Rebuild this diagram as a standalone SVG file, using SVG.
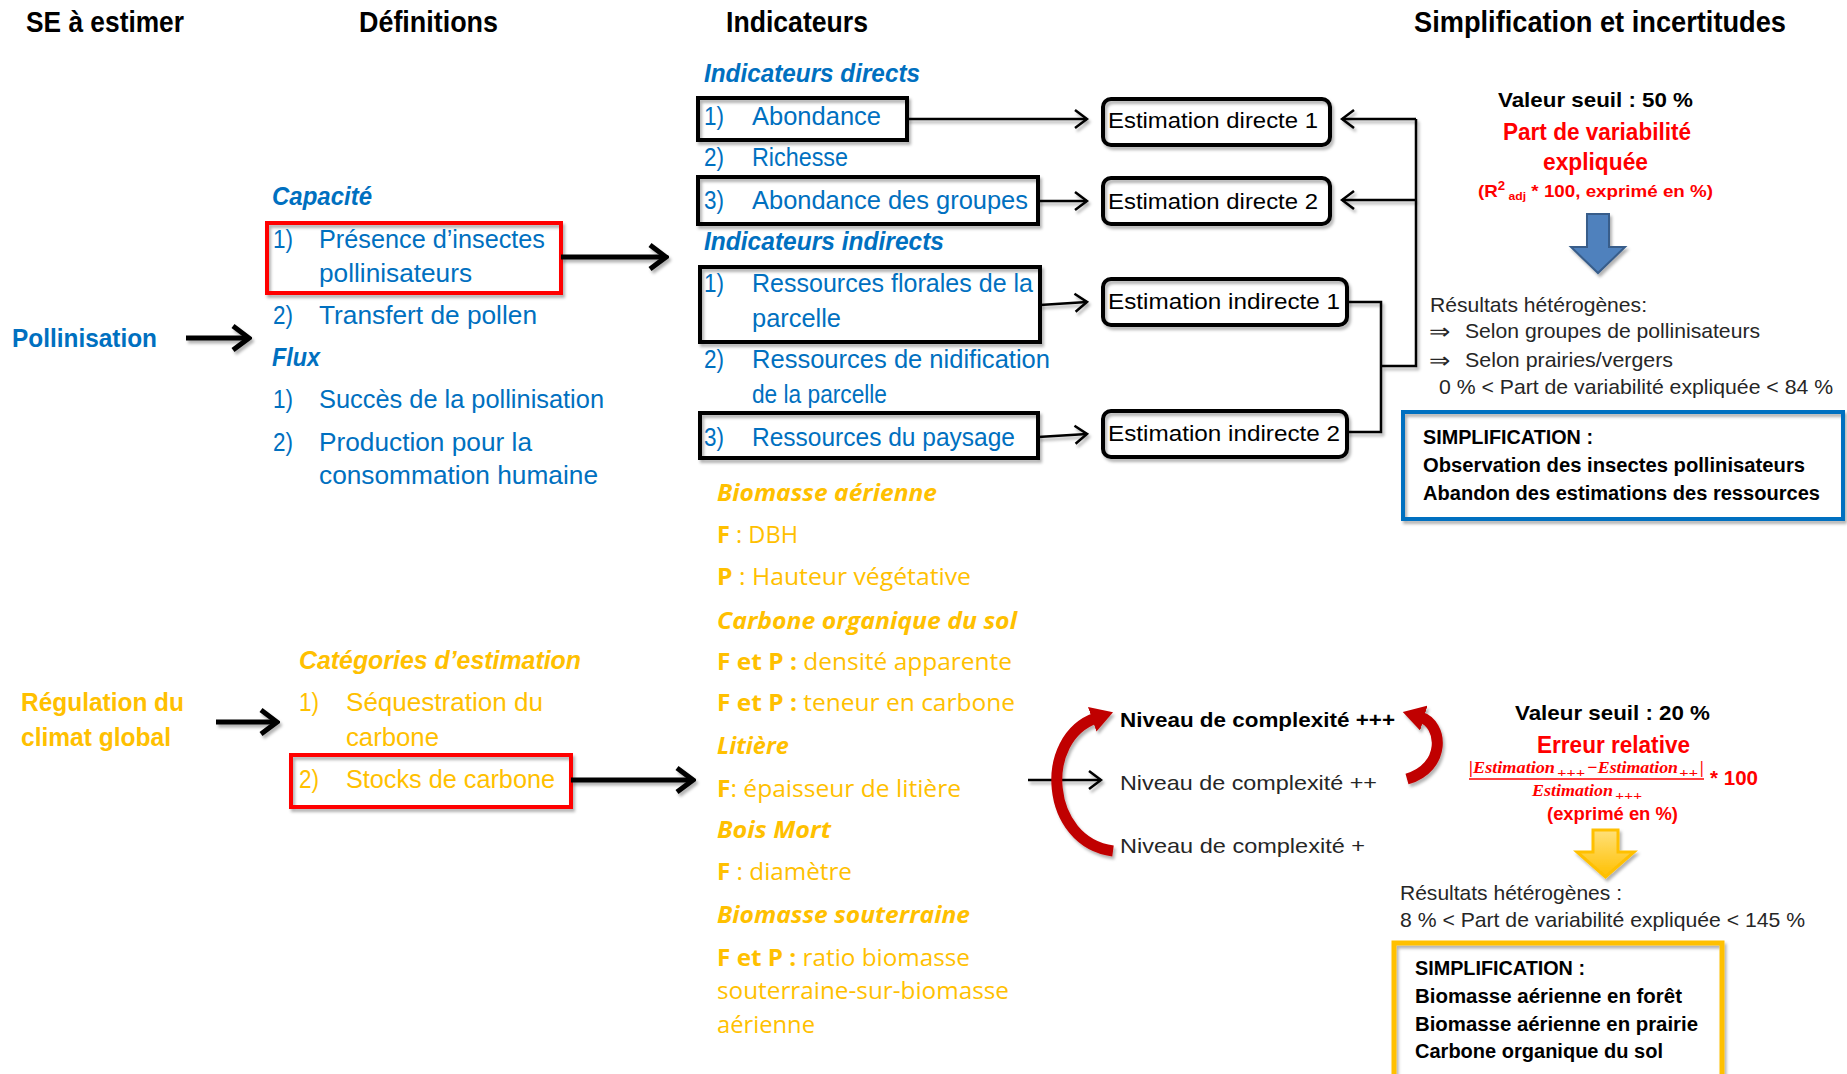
<svg xmlns="http://www.w3.org/2000/svg" width="1847" height="1074" viewBox="0 0 1847 1074">
<defs>
<style>
text{font-family:"Liberation Sans",Arial,sans-serif}
.h{font-size:29px;font-weight:bold;fill:#000}
.bl{font-size:25px;fill:#0070C0}
.blb{font-size:25px;fill:#0070C0;font-weight:bold}
.bli{font-size:25px;fill:#0070C0;font-weight:bold;font-style:italic}
.or{font-size:25px;fill:#FFC000}
.orb{font-size:25px;fill:#FFC000;font-weight:bold}
.ori{font-size:25px;fill:#FFC000;font-style:italic;font-weight:bold}
.og{font-family:"Open Sans","Liberation Sans",sans-serif;font-size:23px;fill:#FFC000}
.ogi{font-family:"Open Sans","Liberation Sans",sans-serif;font-size:23px;fill:#FFC000;font-weight:bold;font-style:italic}
.est{font-size:22px;fill:#000}
.k{font-size:21px;fill:#262626}
.kb{font-size:21px;fill:#000;font-weight:bold}
.sb{font-size:20px;fill:#000;font-weight:bold}
.rb{font-size:23px;fill:#FF0000;font-weight:bold}
.fm{font-family:"Liberation Serif","Times New Roman",serif;font-size:17px;fill:#FF0000;font-weight:bold;font-style:italic}
.fs{font-family:"Liberation Serif","Times New Roman",serif;font-size:12px;fill:#FF0000;font-weight:bold;font-style:italic}
.box{fill:none;stroke:#000;stroke-width:4}
.redbox{fill:none;stroke:#FF0000;stroke-width:4}
.thin{fill:none;stroke:#000;stroke-width:2.5}
.thick{fill:none;stroke:#000;stroke-width:5}
.rarc{fill:none;stroke:#C00000;stroke-width:11}
</style>
<filter id="sh" x="-10%" y="-10%" width="130%" height="140%">
<feDropShadow dx="2" dy="3" stdDeviation="1.5" flood-color="#000" flood-opacity="0.3"/>
</filter>
<marker id="mt" viewBox="0 0 16 22" refX="14" refY="11" markerWidth="16" markerHeight="22" markerUnits="userSpaceOnUse" orient="auto">
<path d="M2,2 L14,11 L2,20" fill="none" stroke="#000" stroke-width="2.5"/>
</marker>
<marker id="mk" viewBox="0 0 22 30" refX="19" refY="15" markerWidth="22" markerHeight="30" markerUnits="userSpaceOnUse" orient="auto">
<path d="M3,3 L19,15 L3,27" fill="none" stroke="#000" stroke-width="5"/>
</marker>
<marker id="mr" viewBox="0 0 24 26" refX="4" refY="13" markerWidth="24" markerHeight="26" markerUnits="userSpaceOnUse" orient="auto">
<path d="M0,0 L22,13 L0,26 Z" fill="#C00000"/>
</marker>
<linearGradient id="yg" x1="0" y1="0" x2="0" y2="1">
<stop offset="0" stop-color="#FFE07A"/><stop offset="1" stop-color="#FFC000"/>
</linearGradient>
</defs>
<rect width="1847" height="1074" fill="#fff"/>

<g id="headers">
<text class="h" x="26" y="32" textLength="158" lengthAdjust="spacingAndGlyphs">SE à estimer</text>
<text class="h" x="359" y="32" textLength="139" lengthAdjust="spacingAndGlyphs">Définitions</text>
<text class="h" x="726" y="32" textLength="142" lengthAdjust="spacingAndGlyphs">Indicateurs</text>
<text class="h" x="1414" y="32" textLength="372" lengthAdjust="spacingAndGlyphs">Simplification et incertitudes</text>
</g>

<g id="pollinisation">
<text class="blb" x="12" y="347" textLength="145" lengthAdjust="spacingAndGlyphs">Pollinisation</text>
</g>
<g id="regulation">
<text class="orb" x="21" y="711" textLength="163" lengthAdjust="spacingAndGlyphs">Régulation du</text>
<text class="orb" x="21" y="746" textLength="150" lengthAdjust="spacingAndGlyphs">climat global</text>
</g>

<g id="def-pollinisation">
<text class="bli" x="272" y="205" textLength="100" lengthAdjust="spacingAndGlyphs">Capacité</text>
<rect class="redbox" x="267" y="223" width="294" height="70" filter="url(#sh)"/>
<text class="bl" x="273" y="248" textLength="20" lengthAdjust="spacingAndGlyphs">1)</text>
<text class="bl" x="319" y="248" textLength="226" lengthAdjust="spacingAndGlyphs">Présence d’insectes</text>
<text class="bl" x="319" y="282" textLength="153" lengthAdjust="spacingAndGlyphs">pollinisateurs</text>
<text class="bl" x="273" y="324" textLength="20" lengthAdjust="spacingAndGlyphs">2)</text>
<text class="bl" x="319" y="324" textLength="218" lengthAdjust="spacingAndGlyphs">Transfert de pollen</text>
<text class="bli" x="272" y="366" textLength="48" lengthAdjust="spacingAndGlyphs">Flux</text>
<text class="bl" x="273" y="408" textLength="20" lengthAdjust="spacingAndGlyphs">1)</text>
<text class="bl" x="319" y="408" textLength="285" lengthAdjust="spacingAndGlyphs">Succès de la pollinisation</text>
<text class="bl" x="273" y="451" textLength="20" lengthAdjust="spacingAndGlyphs">2)</text>
<text class="bl" x="319" y="451" textLength="213" lengthAdjust="spacingAndGlyphs">Production pour la</text>
<text class="bl" x="319" y="484" textLength="279" lengthAdjust="spacingAndGlyphs">consommation humaine</text>
</g>

<g id="def-climat">
<text class="ori" x="299" y="669" textLength="282" lengthAdjust="spacingAndGlyphs">Catégories d’estimation</text>
<text class="or" x="299" y="711" textLength="20" lengthAdjust="spacingAndGlyphs">1)</text>
<text class="or" x="346" y="711" textLength="197" lengthAdjust="spacingAndGlyphs">Séquestration du</text>
<text class="or" x="346" y="746" textLength="93" lengthAdjust="spacingAndGlyphs">carbone</text>
<rect class="redbox" x="291" y="755" width="280" height="52" filter="url(#sh)"/>
<text class="or" x="299" y="788" textLength="20" lengthAdjust="spacingAndGlyphs">2)</text>
<text class="or" x="346" y="788" textLength="209" lengthAdjust="spacingAndGlyphs">Stocks de carbone</text>
</g>

<g id="indicateurs-pollinisation">
<text class="bli" x="704" y="82" textLength="216" lengthAdjust="spacingAndGlyphs">Indicateurs directs</text>
<rect class="box" x="698" y="98" width="209" height="42" filter="url(#sh)"/>
<text class="bl" x="704" y="125" textLength="20" lengthAdjust="spacingAndGlyphs">1)</text>
<text class="bl" x="752" y="125" textLength="129" lengthAdjust="spacingAndGlyphs">Abondance</text>
<text class="bl" x="704" y="166" textLength="20" lengthAdjust="spacingAndGlyphs">2)</text>
<text class="bl" x="752" y="166" textLength="96" lengthAdjust="spacingAndGlyphs">Richesse</text>
<rect class="box" x="698" y="177" width="340" height="47" filter="url(#sh)"/>
<text class="bl" x="704" y="209" textLength="20" lengthAdjust="spacingAndGlyphs">3)</text>
<text class="bl" x="752" y="209" textLength="276" lengthAdjust="spacingAndGlyphs">Abondance des groupes</text>
<text class="bli" x="704" y="250" textLength="240" lengthAdjust="spacingAndGlyphs">Indicateurs indirects</text>
<rect class="box" x="700" y="267" width="340" height="75" filter="url(#sh)"/>
<text class="bl" x="704" y="292" textLength="20" lengthAdjust="spacingAndGlyphs">1)</text>
<text class="bl" x="752" y="292" textLength="281" lengthAdjust="spacingAndGlyphs">Ressources florales de la</text>
<text class="bl" x="752" y="327" textLength="89" lengthAdjust="spacingAndGlyphs">parcelle</text>
<text class="bl" x="704" y="368" textLength="20" lengthAdjust="spacingAndGlyphs">2)</text>
<text class="bl" x="752" y="368" textLength="298" lengthAdjust="spacingAndGlyphs">Ressources de nidification</text>
<text class="bl" x="752" y="403" textLength="135" lengthAdjust="spacingAndGlyphs">de la parcelle</text>
<rect class="box" x="700" y="413" width="338" height="45" filter="url(#sh)"/>
<text class="bl" x="704" y="446" textLength="20" lengthAdjust="spacingAndGlyphs">3)</text>
<text class="bl" x="752" y="446" textLength="263" lengthAdjust="spacingAndGlyphs">Ressources du paysage</text>
</g>

<g id="indicateurs-climat">
<text class="ogi" x="717" y="501" textLength="220" lengthAdjust="spacingAndGlyphs">Biomasse aérienne</text>
<text class="og" x="717" y="543" textLength="81" lengthAdjust="spacingAndGlyphs"><tspan font-weight="bold">F</tspan> : DBH</text>
<text class="og" x="717" y="585" textLength="254" lengthAdjust="spacingAndGlyphs"><tspan font-weight="bold">P</tspan> : Hauteur végétative</text>
<text class="ogi" x="717" y="629" textLength="300" lengthAdjust="spacingAndGlyphs">Carbone organique du sol</text>
<text class="og" x="717" y="670" textLength="295" lengthAdjust="spacingAndGlyphs"><tspan font-weight="bold">F et P :</tspan> densité apparente</text>
<text class="og" x="717" y="711" textLength="298" lengthAdjust="spacingAndGlyphs"><tspan font-weight="bold">F et P :</tspan> teneur en carbone</text>
<text class="ogi" x="717" y="754" textLength="72" lengthAdjust="spacingAndGlyphs">Litière</text>
<text class="og" x="717" y="797" textLength="244" lengthAdjust="spacingAndGlyphs"><tspan font-weight="bold">F</tspan>: épaisseur de litière</text>
<text class="ogi" x="717" y="838" textLength="114" lengthAdjust="spacingAndGlyphs">Bois Mort</text>
<text class="og" x="717" y="880" textLength="135" lengthAdjust="spacingAndGlyphs"><tspan font-weight="bold">F</tspan> : diamètre</text>
<text class="ogi" x="717" y="923" textLength="253" lengthAdjust="spacingAndGlyphs">Biomasse souterraine</text>
<text class="og" x="717" y="966" textLength="253" lengthAdjust="spacingAndGlyphs"><tspan font-weight="bold">F et P :</tspan> ratio biomasse</text>
<text class="og" x="717" y="999" textLength="292" lengthAdjust="spacingAndGlyphs">souterraine-sur-biomasse</text>
<text class="og" x="717" y="1033" textLength="98" lengthAdjust="spacingAndGlyphs">aérienne</text>
</g>

<g id="estimation-directe-1">
<rect class="box" x="1103" y="99" width="227" height="46" rx="8" filter="url(#sh)"/>
<text class="est" x="1108" y="128" textLength="210" lengthAdjust="spacingAndGlyphs">Estimation directe 1</text>
</g>
<g id="estimation-directe-2">
<rect class="box" x="1103" y="178" width="227" height="46" rx="8" filter="url(#sh)"/>
<text class="est" x="1108" y="209" textLength="210" lengthAdjust="spacingAndGlyphs">Estimation directe 2</text>
</g>
<g id="estimation-indirecte-1">
<rect class="box" x="1103" y="279" width="244" height="46" rx="8" filter="url(#sh)"/>
<text class="est" x="1108" y="309" textLength="232" lengthAdjust="spacingAndGlyphs">Estimation indirecte 1</text>
</g>
<g id="estimation-indirecte-2">
<rect class="box" x="1103" y="411" width="244" height="46" rx="8" filter="url(#sh)"/>
<text class="est" x="1108" y="441" textLength="232" lengthAdjust="spacingAndGlyphs">Estimation indirecte 2</text>
</g>

<g id="niveaux">
<text class="kb" x="1120" y="727" textLength="275" lengthAdjust="spacingAndGlyphs">Niveau de complexité +++</text>
<text class="k" x="1120" y="790" textLength="257" lengthAdjust="spacingAndGlyphs">Niveau de complexité ++</text>
<text class="k" x="1120" y="853" textLength="245" lengthAdjust="spacingAndGlyphs">Niveau de complexité +</text>
</g>

<g id="incertitudes-pollinisation">
<text class="kb" x="1498" y="107" textLength="195" lengthAdjust="spacingAndGlyphs">Valeur seuil : 50 %</text>
<text class="rb" x="1503" y="140" textLength="188" lengthAdjust="spacingAndGlyphs">Part de variabilité</text>
<text class="rb" x="1543" y="170" textLength="105" lengthAdjust="spacingAndGlyphs">expliquée</text>
<text x="1478" y="197" font-size="17" font-weight="bold" fill="#FF0000" textLength="235" lengthAdjust="spacingAndGlyphs">(R<tspan font-size="12" dy="-7">2</tspan><tspan font-size="11" dy="10"> adj</tspan><tspan dy="-3"> * 100, exprimé en  %)</tspan></text>
<polygon points="1587,214 1609,214 1609,247 1625,247 1598,273 1571,247 1587,247" fill="#4F81BD" stroke="#385D8A" stroke-width="2" filter="url(#sh)"/>
<text class="k" x="1430" y="312" textLength="217" lengthAdjust="spacingAndGlyphs">Résultats hétérogènes:</text>
<text x="1429" y="339" font-family="DejaVu Sans,sans-serif" font-size="22" fill="#262626" textLength="21" lengthAdjust="spacingAndGlyphs">⇒</text>
<text class="k" x="1465" y="338" textLength="295" lengthAdjust="spacingAndGlyphs">Selon groupes de pollinisateurs</text>
<text x="1429" y="368" font-family="DejaVu Sans,sans-serif" font-size="22" fill="#262626" textLength="21" lengthAdjust="spacingAndGlyphs">⇒</text>
<text class="k" x="1465" y="367" textLength="208" lengthAdjust="spacingAndGlyphs">Selon prairies/vergers</text>
<text class="k" x="1439" y="394" textLength="394" lengthAdjust="spacingAndGlyphs">0 % &lt; Part de variabilité expliquée  &lt; 84 %</text>
<rect x="1403" y="412" width="440" height="107" fill="none" stroke="#0070C0" stroke-width="4" filter="url(#sh)"/>
<text class="sb" x="1423" y="444" textLength="170" lengthAdjust="spacingAndGlyphs">SIMPLIFICATION :</text>
<text class="sb" x="1423" y="472" textLength="382" lengthAdjust="spacingAndGlyphs">Observation des insectes pollinisateurs</text>
<text class="sb" x="1423" y="500" textLength="397" lengthAdjust="spacingAndGlyphs">Abandon des estimations des ressources</text>
</g>

<g id="incertitudes-climat">
<text class="kb" x="1515" y="720" textLength="195" lengthAdjust="spacingAndGlyphs">Valeur seuil : 20 %</text>
<text class="rb" x="1537" y="753" textLength="153" lengthAdjust="spacingAndGlyphs">Erreur relative</text>
<text class="fm" x="1469" y="773" textLength="86" lengthAdjust="spacingAndGlyphs">|Estimation</text>
<text class="fs" x="1557" y="777" textLength="28" lengthAdjust="spacingAndGlyphs">+++</text>
<text class="fm" x="1587" y="773" textLength="91" lengthAdjust="spacingAndGlyphs">−Estimation</text>
<text class="fs" x="1679" y="777" textLength="19" lengthAdjust="spacingAndGlyphs">++</text>
<text class="fm" x="1700" y="773">|</text>
<line x1="1469" y1="779" x2="1704" y2="779" stroke="#FF0000" stroke-width="1.5"/>
<text x="1710" y="785" font-size="20" font-weight="bold" fill="#FF0000" textLength="48" lengthAdjust="spacingAndGlyphs">* 100</text>
<text class="fm" x="1532" y="796" textLength="81" lengthAdjust="spacingAndGlyphs">Estimation</text>
<text class="fs" x="1615" y="800" textLength="27" lengthAdjust="spacingAndGlyphs">+++</text>
<text x="1547" y="820" font-size="19" font-weight="bold" fill="#FF0000" textLength="131" lengthAdjust="spacingAndGlyphs">(exprimé en %)</text>
<polygon points="1593,830 1618,830 1618,852 1634,852 1605.5,877 1577,852 1593,852" fill="url(#yg)" stroke="#FFC000" stroke-width="3" filter="url(#sh)"/>
<text class="k" x="1400" y="900" textLength="222" lengthAdjust="spacingAndGlyphs">Résultats hétérogènes :</text>
<text class="k" x="1400" y="927" textLength="405" lengthAdjust="spacingAndGlyphs">8 % &lt; Part de variabilité  expliquée  &lt; 145 %</text>
<rect x="1394" y="943" width="328" height="145" fill="none" stroke="#FFC000" stroke-width="5" filter="url(#sh)"/>
<text class="sb" x="1415" y="975" textLength="170" lengthAdjust="spacingAndGlyphs">SIMPLIFICATION :</text>
<text class="sb" x="1415" y="1003" textLength="267" lengthAdjust="spacingAndGlyphs">Biomasse aérienne en forêt</text>
<text class="sb" x="1415" y="1031" textLength="283" lengthAdjust="spacingAndGlyphs">Biomasse aérienne en prairie</text>
<text class="sb" x="1415" y="1058" textLength="248" lengthAdjust="spacingAndGlyphs">Carbone organique du sol</text>
</g>

<g id="connectors" filter="url(#sh)">
<path class="thick" d="M186,338 H249" marker-end="url(#mk)"/>
<path class="thick" d="M561,257 H666" marker-end="url(#mk)"/>
<path class="thick" d="M216,722 H277" marker-end="url(#mk)"/>
<path class="thick" d="M571,780 H693" marker-end="url(#mk)"/>
<path class="thin" d="M907,119 H1087" marker-end="url(#mt)"/>
<path class="thin" d="M1038,201 H1087" marker-end="url(#mt)"/>
<path class="thin" d="M1040,305 L1087,302" marker-end="url(#mt)"/>
<path class="thin" d="M1038,437 L1087,434" marker-end="url(#mt)"/>
<path class="thin" d="M1416,119 H1342" marker-end="url(#mt)"/>
<path class="thin" d="M1416,200 H1342" marker-end="url(#mt)"/>
<path class="thin" d="M1416,119 V366 H1381"/>
<path class="thin" d="M1347,302 H1381 V432 H1347"/>
<path class="thin" d="M1028,780 H1101" marker-end="url(#mt)"/>
<path class="rarc" d="M1113,851 C1045,842 1038,738 1096,718" marker-end="url(#mr)"/>
<path class="rarc" d="M1407,779 C1446,768 1444,724 1420,717" marker-end="url(#mr)"/>
</g>
</svg>
